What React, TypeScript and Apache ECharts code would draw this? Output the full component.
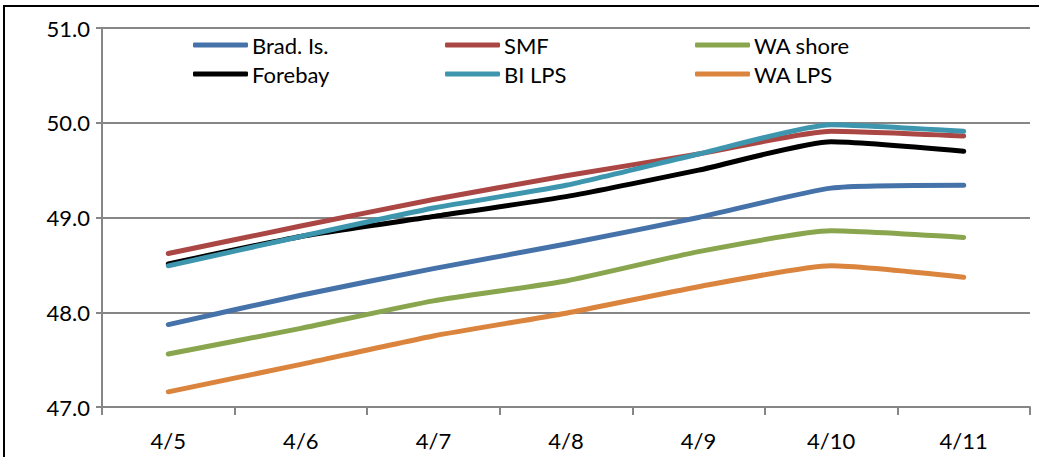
import React, { useEffect, useRef } from "react";
import * as echarts from "echarts";

const categories = ["4/5", "4/6", "4/7", "4/8", "4/9", "4/10", "4/11"];
const bradIs = [47.87, 48.18, 48.46, 48.72, 49.0, 49.31, 49.34];
const smf = [48.62, 48.91, 49.19, 49.44, 49.67, 49.91, 49.86];
const waShore = [47.56, 47.83, 48.12, 48.33, 48.64, 48.86, 48.79];
const forebay = [48.51, 48.8, 49.01, 49.22, 49.5, 49.8, 49.7];
const biLps = [48.49, 48.8, 49.1, 49.34, 49.67, 49.98, 49.91];
const waLps = [47.16, 47.45, 47.75, 47.99, 48.27, 48.49, 48.37];

const seriesNames = ["Brad. Is.", "SMF", "WA shore", "Forebay", "BI LPS", "WA LPS"];
const seriesData = [bradIs, smf, waShore, forebay, biLps, waLps];
const colors = ["#4672AA", "#AA4643", "#89A54E", "#000000", "#3D96AE", "#DB843D"];

const FONT = "Lato, 'Open Sans', 'Noto Sans', sans-serif";

export default function App() {
  const ref = useRef<HTMLDivElement>(null);
  useEffect(() => {
    if (!ref.current) return;
    const chart = echarts.init(ref.current, null, { renderer: "svg" });
    const legendPos = [
      { left: 193, top: 34 },
      { left: 445, top: 34 },
      { left: 695, top: 34 },
      { left: 193, top: 63 },
      { left: 445, top: 63 },
      { left: 695, top: 63 },
    ];
    chart.setOption({
      animation: false,
      backgroundColor: "#ffffff",
      grid: { left: 102, right: 9, top: 28, bottom: 50 },
      legend: seriesNames.map((n, i) => ({
        data: [n],
        left: legendPos[i].left,
        top: legendPos[i].top,
        itemWidth: 55,
        itemHeight: 5,
        itemGap: 0,
        padding: 0,
        icon: "roundRect",
        selectedMode: false,
        textStyle: { fontFamily: FONT, fontSize: 22, color: "#000", padding: [0, 0, 0, -1] },
      })),
      xAxis: {
        type: "category",
        data: categories,
        boundaryGap: true,
        axisLine: { lineStyle: { color: "#868686", width: 2 } },
        axisTick: { show: true, length: 8, lineStyle: { color: "#868686", width: 2 } },
        axisLabel: { fontFamily: FONT, fontSize: 22, color: "#000", margin: 22 },
      },
      yAxis: {
        type: "value",
        min: 47,
        max: 51,
        interval: 1,
        axisLine: { show: true, lineStyle: { color: "#868686", width: 2 } },
        axisTick: { show: true, length: 6, lineStyle: { color: "#868686", width: 2 } },
        splitLine: { lineStyle: { color: "#868686", width: 2 } },
        axisLabel: {
          fontFamily: FONT,
          fontSize: 22,
          color: "#000",
          margin: 12,
          formatter: (v: number) => v.toFixed(1),
        },
      },
      series: seriesNames.map((n, i) => ({
        name: n,
        type: "line",
        data: seriesData[i],
        smooth: 0.18,
        showSymbol: false,
        symbol: "none",
        lineStyle: { color: colors[i], width: 5, cap: "round", join: "round" },
        itemStyle: { color: colors[i] },
      })),
      graphic: [
        {
          type: "rect",
          shape: { x: 4, y: 6, width: 1200, height: 600 },
          style: { fill: "none", stroke: "#000", lineWidth: 2 },
          silent: true,
        },
      ],
    });
    return () => chart.dispose();
  }, []);
  return (
    <div
      ref={ref}
      style={{ position: "absolute", left: 0, top: 0, width: 1039, height: 457 }}
    />
  );
}
